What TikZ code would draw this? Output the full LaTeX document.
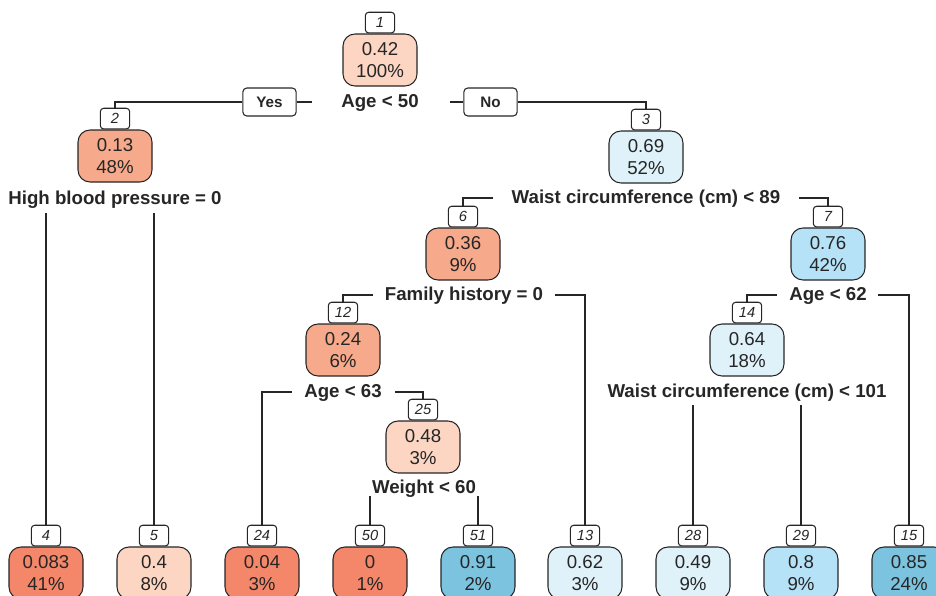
\documentclass[tikz,border=0pt]{standalone}
\usepackage{fontspec}
\setmainfont{Liberation Sans}
\definecolor{orA}{HTML}{F4866A}
\definecolor{orB}{HTML}{F7A98B}
\definecolor{orC}{HTML}{FCD5C3}
\definecolor{buA}{HTML}{DFF2FA}
\definecolor{buB}{HTML}{B6E2F7}
\definecolor{buC}{HTML}{7CC3E0}
\definecolor{ink}{HTML}{262626}
\tikzset{
  mbox/.style={draw=ink, line width=0.8pt, rounded corners=9pt, minimum width=55.5pt, minimum height=39pt, align=center, inner sep=0pt, text=ink, font=\fontsize{14}{17}\selectfont},
  idbox/.style={draw=ink, line width=0.8pt, fill=white, rounded corners=2.5pt, minimum width=22pt, minimum height=15.5pt, inner sep=0pt, text=ink, anchor=south, font=\fontsize{11}{12}\selectfont\itshape},
  splitlbl/.style={inner sep=0pt, text=ink, anchor=base, font=\bfseries\fontsize{14}{16}\selectfont},
  yn/.style={draw=ink, line width=0.8pt, fill=white, rounded corners=3pt, minimum width=40pt, minimum height=21pt, inner sep=0pt, text=ink, font=\bfseries\fontsize{11.4}{13}\selectfont},
  edge/.style={draw=ink, line width=0.8pt}
}
\begin{document}
\begin{tikzpicture}[x=0.75pt,y=-0.75pt]
\useasboundingbox (0,0) rectangle (936,596);
% internal nodes
\node[mbox, fill=orC] (b1) at (380,60) {0.42\\100\%};
\node[idbox] (i1) at (b1.north) {1};
\node[splitlbl] (s1) at (380,107) {Age < 50};
\node[mbox, fill=orB] (b2) at (115,156) {0.13\\48\%};
\node[idbox] (i2) at (b2.north) {2};
\node[splitlbl] (s2) at (115,204) {High blood pressure = 0};
\node[mbox, fill=buA] (b3) at (646,157) {0.69\\52\%};
\node[idbox] (i3) at (b3.north) {3};
\node[splitlbl] (s3) at (646,203) {Waist circumference (cm) < 89};
\node[mbox, fill=orB] (b6) at (463,254) {0.36\\9\%};
\node[idbox] (i6) at (b6.north) {6};
\node[splitlbl] (s6) at (464,300) {Family history = 0};
\node[mbox, fill=buB] (b7) at (828,254) {0.76\\42\%};
\node[idbox] (i7) at (b7.north) {7};
\node[splitlbl] (s7) at (828,300) {Age < 62};
\node[mbox, fill=orB] (b12) at (343,350) {0.24\\6\%};
\node[idbox] (i12) at (b12.north) {12};
\node[splitlbl] (s12) at (343,397) {Age < 63};
\node[mbox, fill=buA] (b14) at (747,350) {0.64\\18\%};
\node[idbox] (i14) at (b14.north) {14};
\node[splitlbl] (s14) at (747,397) {Waist circumference (cm) < 101};
\node[mbox, fill=orC] (b25) at (423,447) {0.48\\3\%};
\node[idbox] (i25) at (b25.north) {25};
\node[splitlbl] (s25) at (424,493) {Weight < 60};
% leaves
\node[mbox, fill=orA] (b4) at (46,573) {0.083\\41\%};
\node[idbox] (i4) at (b4.north) {4};
\node[mbox, fill=orC] (b5) at (154,573) {0.4\\8\%};
\node[idbox] (i5) at (b5.north) {5};
\node[mbox, fill=orA] (b24) at (262,573) {0.04\\3\%};
\node[idbox] (i24) at (b24.north) {24};
\node[mbox, fill=orA] (b50) at (370,573) {0\\1\%};
\node[idbox] (i50) at (b50.north) {50};
\node[mbox, fill=buC] (b51) at (478,573) {0.91\\2\%};
\node[idbox] (i51) at (b51.north) {51};
\node[mbox, fill=buA] (b13) at (585,573) {0.62\\3\%};
\node[idbox] (i13) at (b13.north) {13};
\node[mbox, fill=buA] (b28) at (693,573) {0.49\\9\%};
\node[idbox] (i28) at (b28.north) {28};
\node[mbox, fill=buB] (b29) at (801,573) {0.8\\9\%};
\node[idbox] (i29) at (b29.north) {29};
\node[mbox, fill=buC] (b15) at (909,573) {0.85\\24\%};
\node[idbox] (i15) at (b15.north) {15};
% yes / no
\node[yn] (yes) at (269.5,102) {Yes};
\node[yn] (no) at (490.5,102) {No};
% connector anchors
\coordinate (l1) at (312,102);
\coordinate (r1) at (450,102);
\coordinate (c2a) at (46,213);
\coordinate (c2b) at (154,213);
\coordinate (l3) at (493,198);
\coordinate (r3) at (799,198);
\coordinate (l6) at (373,295);
\coordinate (r6) at (555,295);
\coordinate (l7) at (777,295);
\coordinate (r7) at (878,295);
\coordinate (l12) at (292,392);
\coordinate (r12) at (395,392);
\coordinate (c14a) at (693,405);
\coordinate (c14b) at (801,405);
\coordinate (c25a) at (370,496);
\coordinate (c25b) at (478,496);
% connectors
\draw[edge] (l1) -- (yes.east);
\draw[edge] (yes.west) -| (i2.north);
\draw[edge] (r1) -- (no.west);
\draw[edge] (no.east) -| (i3.north);
\draw[edge] (c2a) -- (i4.north);
\draw[edge] (c2b) -- (i5.north);
\draw[edge] (l3) -| (i6.north);
\draw[edge] (r3) -| (i7.north);
\draw[edge] (l6) -| (i12.north);
\draw[edge] (r6) -| (i13.north);
\draw[edge] (l7) -| (i14.north);
\draw[edge] (r7) -| (i15.north);
\draw[edge] (l12) -| (i24.north);
\draw[edge] (r12) -| (i25.north);
\draw[edge] (c14a) -- (i28.north);
\draw[edge] (c14b) -- (i29.north);
\draw[edge] (c25a) -- (i50.north);
\draw[edge] (c25b) -- (i51.north);
\end{tikzpicture}
\end{document}
